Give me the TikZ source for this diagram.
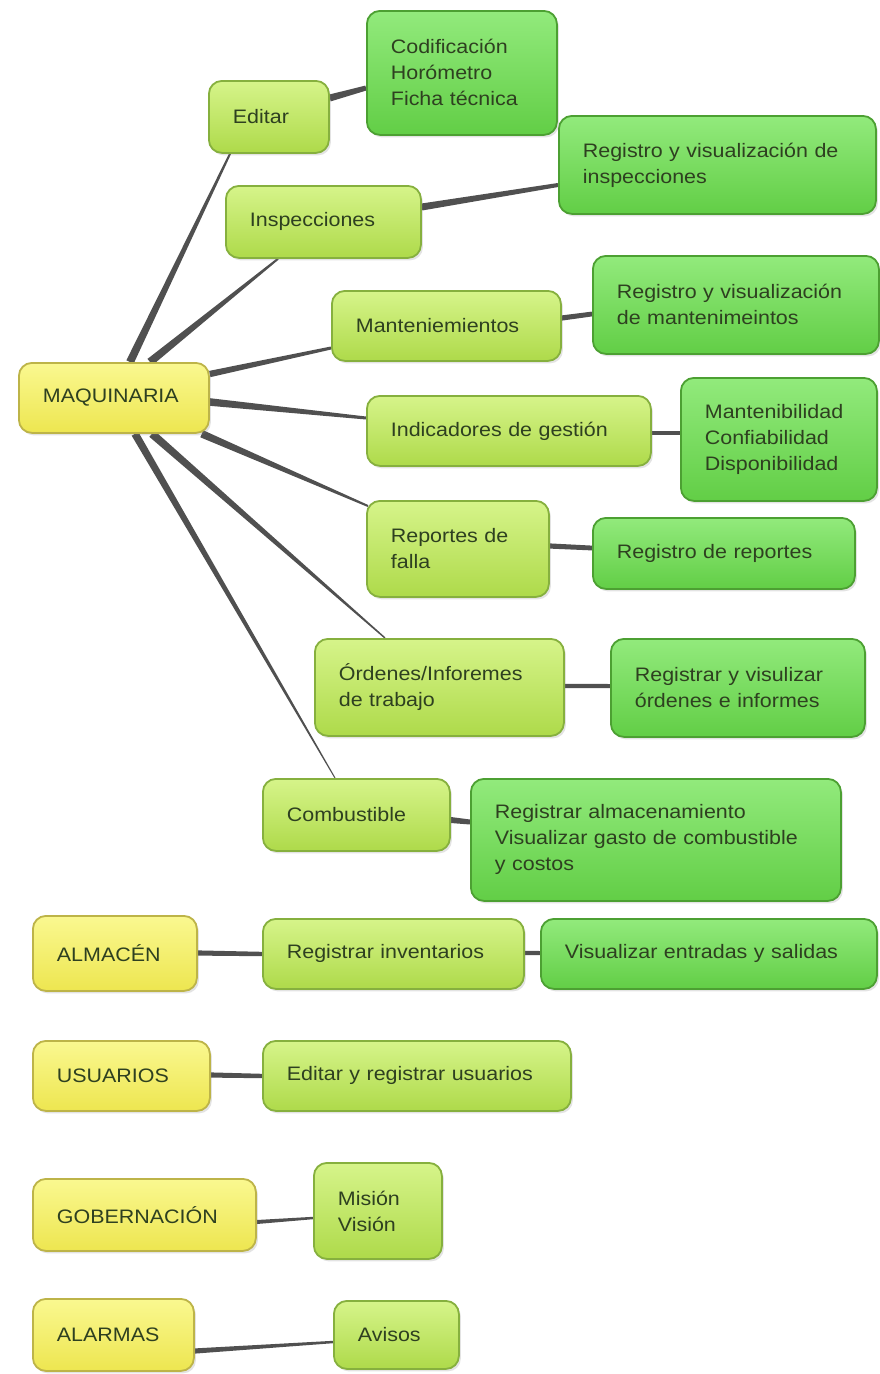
\documentclass[tikz,border=0pt]{standalone}
\usepackage{fontspec}
\setmainfont{Liberation Sans}[FakeStretch=1.1]
\usetikzlibrary{calc,shadows,backgrounds}
\definecolor{txt}{HTML}{2E4020}
\definecolor{yTop}{HTML}{FAF890}
\definecolor{yBot}{HTML}{EDE650}
\definecolor{yBrd}{HTML}{BDB448}
\definecolor{lgTop}{HTML}{D6F48A}
\definecolor{lgBot}{HTML}{AEDA4A}
\definecolor{lgBrd}{HTML}{86B03E}
\definecolor{dgTop}{HTML}{92EA7C}
\definecolor{dgBot}{HTML}{62CE46}
\definecolor{dgBrd}{HTML}{4CA032}
\definecolor{cnn}{HTML}{505050}
\tikzset{
  box/.style={rounded corners=13pt, anchor=north west, inner xsep=24pt, inner ysep=0pt,
    align=left, text=txt, line width=1.8pt,
    font=\fontsize{19.5}{26}\selectfont,
    drop shadow={opacity=0.22, shadow xshift=2pt, shadow yshift=-2.5pt}},
  ybox/.style={box, draw=yBrd, top color=yTop, bottom color=yBot},
  lgbox/.style={box, draw=lgBrd, top color=lgTop, bottom color=lgBot},
  dgbox/.style={box, draw=dgBrd, top color=dgTop, bottom color=dgBot},
  conn/.style={fill=cnn}
}
\newcommand\tconn[4]{\fill[conn] ($(#1)!#3!90:(#2)$) -- ($(#2)!#4!-90:(#1)$) -- ($(#2)!#4!90:(#1)$) -- ($(#1)!#3!-90:(#2)$) -- cycle;}
\begin{document}
\begin{tikzpicture}[x=1pt,y=-1pt]
\useasboundingbox (0,0) rectangle (880,1374);

% MAQUINARIA branch
\node[ybox, text width=142pt, minimum height=70pt] (maq) at (18,362) {MAQUINARIA};
\node[lgbox, text width=72pt, minimum height=72pt] (edit) at (208,80) {Editar};
\node[dgbox, text width=142pt, minimum height=124pt] (cod) at (366,10) {Codificación\\Horómetro\\Ficha técnica};
\node[lgbox, text width=147pt, minimum height=72pt] (insp) at (225,185) {Inspecciones};
\node[dgbox, text width=269pt, minimum height=98pt] (rinsp) at (558,115) {Registro y visualización de\\inspecciones};
\node[lgbox, text width=181pt, minimum height=70pt] (mant) at (331,290) {Manteniemientos};
\node[dgbox, text width=238pt, minimum height=98pt] (rmant) at (592,255) {Registro y visualización\\de mantenimeintos};
\node[lgbox, text width=236pt, minimum height=70pt] (ind) at (366,395) {Indicadores de gestión};
\node[dgbox, text width=148pt, minimum height=123pt] (ind2) at (680,377) {Mantenibilidad\\Confiabilidad\\Disponibilidad};
\node[lgbox, text width=134pt, minimum height=96pt] (rep) at (366,500) {Reportes de\\falla};
\node[dgbox, text width=214pt, minimum height=71pt] (rrep) at (592,517) {Registro de reportes};
\node[lgbox, text width=201pt, minimum height=97pt] (ord) at (314,638) {Órdenes/Inforemes\\de trabajo};
\node[dgbox, text width=206pt, minimum height=98pt] (rord) at (610,638) {Registrar y visulizar\\órdenes e informes};
\node[lgbox, text width=139pt, minimum height=72pt] (comb) at (262,778) {Combustible};
\node[dgbox, text width=322pt, minimum height=122pt] (ralm) at (470,778) {Registrar almacenamiento\\Visualizar gasto de combustible\\y costos};

% other modules
\node[ybox, text width=116pt, minimum height=75pt] (alm) at (32,915) {ALMACÉN};
\node[lgbox, text width=213pt, minimum height=70pt] (rinv) at (262,918) {Registrar inventarios};
\node[dgbox, text width=288pt, minimum height=70pt] (vis) at (540,918) {Visualizar entradas y salidas};
\node[ybox, text width=129pt, minimum height=70pt] (usu) at (32,1040) {USUARIOS};
\node[lgbox, text width=260pt, minimum height=70pt] (eusu) at (262,1040) {Editar y registrar usuarios};
\node[ybox, text width=175pt, minimum height=72pt] (gob) at (32,1178) {GOBERNACIÓN};
\node[lgbox, text width=80pt, minimum height=96pt] (mis) at (313,1162) {Misión\\Visión};
\node[ybox, text width=113pt, minimum height=72pt] (ala) at (32,1298) {ALARMAS};
\node[lgbox, text width=77pt, minimum height=68pt] (avi) at (333,1300) {Avisos};

% connector end points
\coordinate (a1) at ($(maq.north west)+(112,0)$);  \coordinate (b1) at ($(edit.south west)+(22,0)$);
\coordinate (a2) at ($(maq.north west)+(132,0)$);  \coordinate (b2) at ($(insp.south west)+(53,0)$);
\coordinate (a3) at ($(maq.north east)+(0,12)$);   \coordinate (b3) at ($(mant.north west)+(0,58)$);
\coordinate (a4) at ($(maq.north east)+(0,40)$);   \coordinate (b4) at ($(ind.north west)+(0,23)$);
\coordinate (a5) at ($(maq.south east)+(-8,0)$);   \coordinate (b5) at ($(rep.north west)+(2,6)$);
\coordinate (a6) at ($(maq.south west)+(134,0)$);  \coordinate (b6) at ($(ord.north west)+(71,0)$);
\coordinate (a7) at ($(maq.south west)+(117,0)$);  \coordinate (b7) at ($(comb.north west)+(73,0)$);
\coordinate (c1) at ($(edit.north east)+(0,18)$);  \coordinate (d1) at ($(cod.north west)+(0,78)$);
\coordinate (c2) at ($(insp.north east)+(0,22)$);  \coordinate (d2) at ($(rinsp.north west)+(0,70)$);
\coordinate (c3) at ($(mant.north east)+(0,28)$);  \coordinate (d3) at ($(rmant.north west)+(0,59)$);
\coordinate (c4) at ($(ind.north east)+(0,38)$);   \coordinate (d4) at ($(ind2.north west)+(0,56)$);
\coordinate (c5) at ($(rep.north east)+(0,46)$);   \coordinate (d5) at ($(rrep.north west)+(0,31)$);
\coordinate (c6) at ($(ord.north east)+(0,48)$);   \coordinate (d6) at ($(rord.north west)+(0,48)$);
\coordinate (c7) at ($(comb.north east)+(0,42)$);  \coordinate (d7) at ($(ralm.north west)+(0,44)$);
\coordinate (c8) at ($(alm.north east)+(0,38)$);   \coordinate (d8) at ($(rinv.north west)+(0,36)$);
\coordinate (c9) at ($(rinv.north east)+(0,35)$);  \coordinate (d9) at ($(vis.north west)+(0,35)$);
\coordinate (c10) at ($(usu.north east)+(0,35)$);  \coordinate (d10) at ($(eusu.north west)+(0,36)$);
\coordinate (c11) at ($(gob.north east)+(0,44)$);  \coordinate (d11) at ($(mis.north west)+(0,56)$);
\coordinate (c12) at ($(ala.north east)+(0,53)$);  \coordinate (d12) at ($(avi.north west)+(0,42)$);

\begin{pgfonlayer}{background}
\fill[white] (0,0) rectangle (880,1374);
\tconn{a1}{b1}{4pt}{1pt}
\tconn{a2}{b2}{4pt}{1pt}
\tconn{a3}{b3}{3.2pt}{1.5pt}
\tconn{a4}{b4}{3.8pt}{1.5pt}
\tconn{a5}{b5}{3.8pt}{1pt}
\tconn{a6}{b6}{4pt}{0.7pt}
\tconn{a7}{b7}{3.8pt}{0.5pt}
\tconn{c1}{d1}{3.5pt}{2.5pt}
\tconn{c2}{d2}{3.5pt}{2pt}
\tconn{c3}{d3}{2.6pt}{2.4pt}
\tconn{c4}{d4}{2pt}{2pt}
\tconn{c5}{d5}{2.6pt}{2.4pt}
\tconn{c6}{d6}{2.2pt}{2pt}
\tconn{c7}{d7}{3pt}{2.5pt}
\tconn{c8}{d8}{2.6pt}{2.2pt}
\tconn{c9}{d9}{2.2pt}{2pt}
\tconn{c10}{d10}{2.6pt}{2.2pt}
\tconn{c11}{d11}{2pt}{1.2pt}
\tconn{c12}{d12}{2.6pt}{1.2pt}
\end{pgfonlayer}
\end{tikzpicture}
\end{document}
